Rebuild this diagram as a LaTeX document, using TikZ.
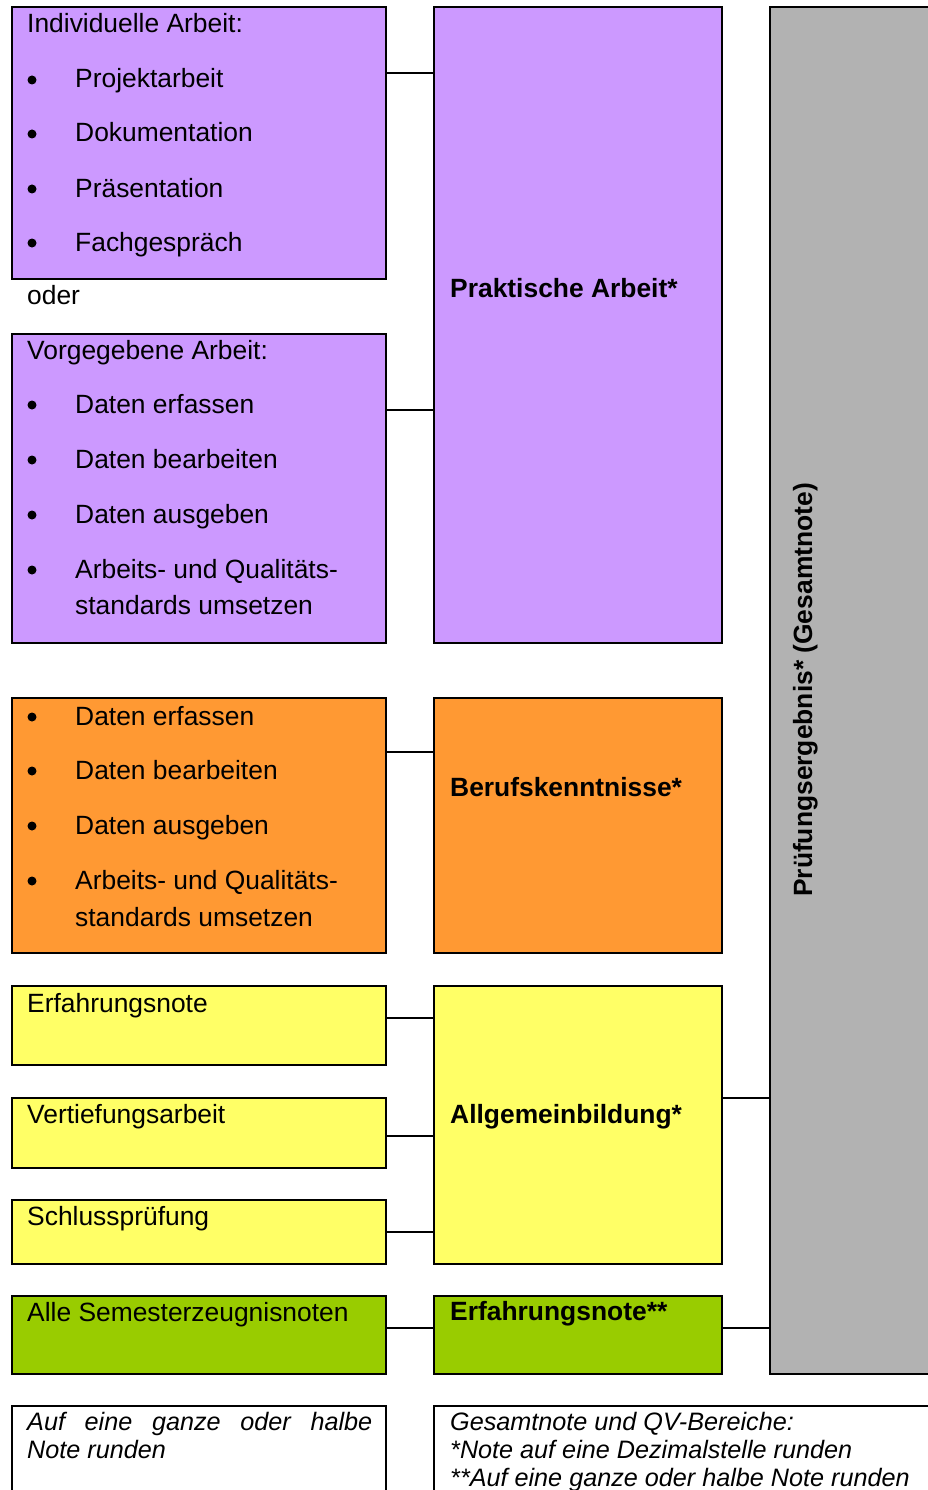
\documentclass[tikz,border=0pt]{standalone}
\usepackage{fontspec}
\setmainfont{Liberation Sans}
\definecolor{purp}{HTML}{CC99FF}
\definecolor{oran}{HTML}{FF9933}
\definecolor{yell}{HTML}{FFFF66}
\definecolor{gree}{HTML}{99CC00}
\definecolor{grayc}{HTML}{B2B2B2}
\begin{document}
\begin{tikzpicture}[x=1pt,y=-1pt,
  box/.style={draw, line width=2pt, inner sep=0pt, outer sep=0pt, anchor=north west},
  txt/.style={anchor=base west, inner sep=0pt, font=\fontsize{26.4}{31.6}\selectfont},
  btxt/.style={anchor=base west, inner sep=0pt, font=\fontsize{26.4}{31.6}\selectfont\bfseries},
  itxt/.style={anchor=base west, inner sep=0pt, font=\fontsize{25.2}{28}\selectfont\itshape},
  conn/.style={line width=2pt},
  dot/.style={circle, fill=black, inner sep=0pt, minimum size=9pt}]
\useasboundingbox (0,0) rectangle (928,1490);

% boxes
\node[box, fill=purp, minimum width=374pt, minimum height=272pt] (ind) at (12,7) {};
\node[box, fill=purp, minimum width=374pt, minimum height=309pt] (vor) at (12,334) {};
\node[box, fill=purp, minimum width=288pt, minimum height=636pt] (prak) at (434,7) {};
\node[box, fill=oran, minimum width=374pt, minimum height=255pt] (orl) at (12,698) {};
\node[box, fill=oran, minimum width=288pt, minimum height=255pt] (beruf) at (434,698) {};
\node[box, fill=yell, minimum width=374pt, minimum height=79pt] (erf) at (12,986) {};
\node[box, fill=yell, minimum width=374pt, minimum height=70pt] (vert) at (12,1098) {};
\node[box, fill=yell, minimum width=374pt, minimum height=64pt] (schl) at (12,1200) {};
\node[box, fill=yell, minimum width=288pt, minimum height=278pt] (allg) at (434,986) {};
\node[box, fill=gree, minimum width=374pt, minimum height=78pt] (alle) at (12,1296) {};
\node[box, fill=gree, minimum width=288pt, minimum height=78pt] (erf2) at (434,1296) {};
\node[box, fill=grayc, minimum width=200pt, minimum height=1367pt] (ges) at (770,7) {};
\node[box, minimum width=374pt, minimum height=120pt] (notel) at (12,1406) {};
\node[box, minimum width=520pt, minimum height=120pt] (noter) at (434,1406) {};

% connector heights
\coordinate (y1) at (0,73);
\coordinate (y2) at (0,410);
\coordinate (y3) at (0,752);
\coordinate (y4) at (0,1018);
\coordinate (y5) at (0,1136);
\coordinate (y6) at (0,1232);
\coordinate (y7) at (0,1328);
\coordinate (y8) at (0,1098);

\draw[conn] (ind.east |- y1) -- (prak.west |- y1);
\draw[conn] (vor.east |- y2) -- (prak.west |- y2);
\draw[conn] (orl.east |- y3) -- (beruf.west |- y3);
\draw[conn] (erf.east |- y4) -- (allg.west |- y4);
\draw[conn] (vert.east |- y5) -- (allg.west |- y5);
\draw[conn] (schl.east |- y6) -- (allg.west |- y6);
\draw[conn] (alle.east |- y7) -- (erf2.west |- y7);
\draw[conn] (allg.east |- y8) -- (ges.west |- y8);
\draw[conn] (erf2.east |- y7) -- (ges.west |- y7);

% Individuelle Arbeit
\node[txt] (t1) at (27,33) {Individuelle Arbeit:};
\node[dot] (d1) at (32,80) {};
\node[txt] (t2) at (75,88) {Projektarbeit};
\node[dot] (d2) at (32,134) {};
\node[txt] (t3) at (75,142) {Dokumentation};
\node[dot] (d3) at (32,189) {};
\node[txt] (t4) at (75,197) {Präsentation};
\node[dot] (d4) at (32,243) {};
\node[txt] (t5) at (75,251) {Fachgespräch};
\node[txt] (oder) at (27,304) {oder};

% Vorgegebene Arbeit
\node[txt] (v0) at (27,359) {Vorgegebene Arbeit:};
\node[dot] (vd1) at (32,405) {};
\node[txt] (v1) at (75,413) {Daten erfassen};
\node[dot] (vd2) at (32,460) {};
\node[txt] (v2) at (75,468) {Daten bearbeiten};
\node[dot] (vd3) at (32,515) {};
\node[txt] (v3) at (75,523) {Daten ausgeben};
\node[dot] (vd4) at (32,570) {};
\node[txt] (v4) at (75,578) {Arbeits- und Qualitäts-};
\node[txt] (v5) at (75,614) {standards umsetzen};

% orange list
\node[dot] (od1) at (32,717) {};
\node[txt] (o1) at (75,725) {Daten erfassen};
\node[dot] (od2) at (32,771) {};
\node[txt] (o2) at (75,779) {Daten bearbeiten};
\node[dot] (od3) at (32,826) {};
\node[txt] (o3) at (75,834) {Daten ausgeben};
\node[dot] (od4) at (32,881) {};
\node[txt] (o4) at (75,889) {Arbeits- und Qualitäts-};
\node[txt] (o5) at (75,926) {standards umsetzen};

% yellow / green texts
\node[txt] (e1) at (27,1012) {Erfahrungsnote};
\node[txt] (e2) at (27,1123) {Vertiefungsarbeit};
\node[txt] (e3) at (27,1225) {Schlussprüfung};
\node[txt] (e4) at (27,1321) {Alle Semesterzeugnisnoten};

% right column titles
\node[btxt] (pt) at (450,297) {Praktische Arbeit*};
\node[btxt] (bt) at (450,796) {Berufskenntnisse*};
\node[btxt] (at) at (450,1123) {Allgemeinbildung*};
\node[btxt] (et) at (450,1320) {Erfahrungsnote**};

% rotated total
\node[rotate=90, anchor=base, inner sep=0pt, font=\fontsize{26.4}{31.6}\selectfont\bfseries] (gt) at (812,690) {Prüfungsergebnis* (Gesamtnote)};

% notes
\node[itxt] (n1) at (27,1430) {\makebox[345pt][s]{Auf eine ganze oder halbe}};
\node[itxt] (n2) at (27,1458) {Note runden};
\node[itxt] (r1) at (450,1430) {Gesamtnote und QV-Bereiche:};
\node[itxt] (r2) at (450,1458) {*Note auf eine Dezimalstelle runden};
\node[itxt] (r3) at (450,1486) {**Auf eine ganze oder halbe Note runden};
\end{tikzpicture}
\end{document}
